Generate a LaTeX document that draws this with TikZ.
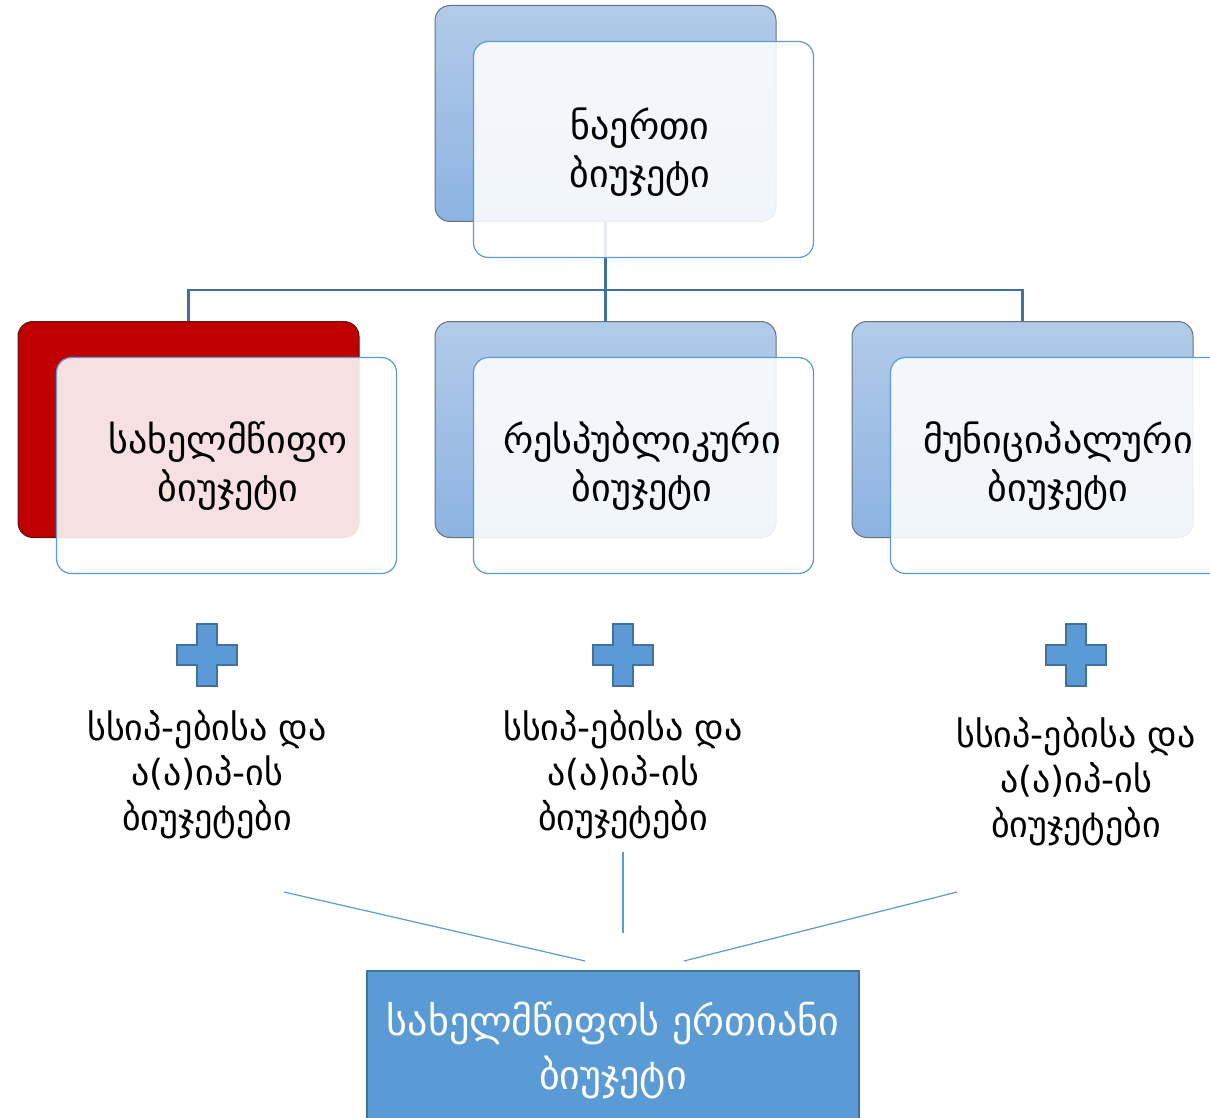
\documentclass[tikz,border=0pt]{standalone}
\usepackage{fontspec}
\setmainfont{DejaVu Sans}
\usetikzlibrary{positioning, calc}

\definecolor{backtop}{RGB}{178,203,233}
\definecolor{backbottom}{RGB}{141,179,226}
\definecolor{backedge}{RGB}{105,112,122}
\definecolor{statered}{RGB}{192,0,0}
\definecolor{rededge}{RGB}{90,20,20}
\definecolor{frontedge}{RGB}{91,155,213}
\definecolor{treeline}{RGB}{65,113,156}

\begin{document}
\begin{tikzpicture}[x=1pt, y=-1pt,
    backbox/.style={draw=backedge, line width=1pt, rounded corners=15pt, minimum width=341pt, minimum height=216pt, top color=backtop, bottom color=backbottom},
    redbox/.style={draw=rededge, line width=1pt, rounded corners=15pt, minimum width=341pt, minimum height=216pt, fill=statered},
    frontbox/.style={draw=frontedge, line width=1.2pt, rounded corners=15pt, fill=white, fill opacity=0.88, minimum width=340pt, minimum height=216pt},
    boxtext/.style={align=center, font=\fontsize{38}{48}\selectfont},
    extratext/.style={align=center, font=\fontsize{36}{45}\selectfont},
    totaltext/.style={align=center, text=white, font=\fontsize{40}{54}\selectfont},
    tree/.style={draw=treeline, line width=2.5pt},
    feedline/.style={draw=frontedge, line width=1.2pt},
    plussign/.pic={\draw[fill=frontedge, draw=treeline, line width=1.5pt] (-10,-31) -- (10,-31) -- (10,-10) -- (30,-10) -- (30,10) -- (10,10) -- (10,31) -- (-10,31) -- (-10,10) -- (-30,10) -- (-30,-10) -- (-10,-10) -- cycle;}]
    \useasboundingbox (0,0) rectangle (1210,1118);

    % back boxes
    \node[redbox] (stateback) at (188.5,429.5) {};
    \node[backbox, right=75pt of stateback] (repback) {};
    \node[backbox, right=75pt of repback] (munback) {};
    \node[backbox, above=99pt of repback] (topback) {};

    % tree
    \coordinate (hub) at (topback.south |- 0,290);
    \draw[tree] (topback.south) -- (hub);
    \draw[tree] (stateback.north) |- (hub) -| (munback.north);
    \draw[tree] (hub) -- (repback.north);

    % front boxes
    \node[frontbox] (topfront) at ([shift={(38,36)}]topback.center) {};
    \node[frontbox] (statefront) at ([shift={(38,36)}]stateback.center) {};
    \node[frontbox] (repfront) at ([shift={(38,36)}]repback.center) {};
    \node[frontbox] (munfront) at ([shift={(38,36)}]munback.center) {};

    \node[boxtext] (toptxt) at (640,152) {ნაერთი\\ბიუჯეტი};
    \node[boxtext] (statetxt) at (228,466) {სახელმწიფო\\ბიუჯეტი};
    \node[boxtext] (reptxt) at (642,466) {რესპუბლიკური\\ბიუჯეტი};
    \node[boxtext] (muntxt) at (1058,466) {მუნიციპალური\\ბიუჯეტი};

    % plus signs
    \pic at (207,655) {plussign};
    \pic at (623,655) {plussign};
    \pic at (1076,655) {plussign};

    \node[extratext] (stateextra) at (207,775) {სსიპ-ებისა და\\ა(ა)იპ-ის\\ბიუჯეტები};
    \node[extratext] (repextra) at (623,775) {სსიპ-ებისა და\\ა(ა)იპ-ის\\ბიუჯეტები};
    \node[extratext] (munextra) at (1076,782) {სსიპ-ებისა და\\ა(ა)იპ-ის\\ბიუჯეტები};

    % total
    \node[draw=treeline, line width=2pt, fill=frontedge, minimum width=492pt, minimum height=160pt] (total) at (613,1051) {};
    \node[totaltext] (totaltxt) at (613,1050) {სახელმწიფოს ერთიანი\\ბიუჯეტი};

    \coordinate (l1) at (284,892);
    \coordinate (l2) at (585,961);
    \coordinate (m1) at (623,852);
    \coordinate (m2) at (623,933);
    \coordinate (r1) at (957,892);
    \coordinate (r2) at (684,961);
    \draw[feedline] (l1) -- (l2);
    \draw[feedline] (m1) -- (m2);
    \draw[feedline] (r1) -- (r2);
\end{tikzpicture}
\end{document}
